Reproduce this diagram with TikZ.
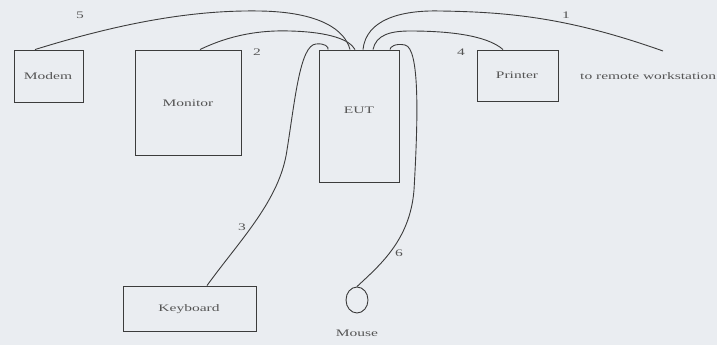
\documentclass[tikz,border=0pt]{standalone}
\usepackage{fontspec}
\setmainfont[FakeStretch=1.55]{Liberation Serif}
\usetikzlibrary{shapes.geometric}
\definecolor{bg}{RGB}{234,237,241}
\definecolor{ink}{RGB}{60,60,60}
\definecolor{txt}{RGB}{85,85,85}
\tikzset{
  box/.style={draw=ink, line width=0.9pt, rectangle, inner sep=0pt},
  cable/.style={draw=ink, line width=0.9pt},
  lbl/.style={text=txt, font=\fontsize{10}{11}\selectfont, inner sep=0pt},
  num/.style={text=txt, font=\fontsize{10}{11}\selectfont, inner sep=0pt}
}
\begin{document}
\begin{tikzpicture}[x=1pt,y=-1pt]
\fill[bg] (0,0) rectangle (717,345);
\useasboundingbox (0,0) rectangle (717,345);
% boxes
\node[box, minimum width=69pt, minimum height=52pt] (modem) at (48.5,76) {};
\node[box, minimum width=106pt, minimum height=105pt] (monitor) at (188,102.5) {};
\node[box, minimum width=80pt, minimum height=132pt] (eut) at (359,116) {};
\node[box, minimum width=81pt, minimum height=51pt] (printer) at (517.5,75.5) {};
\node[box, minimum width=133pt, minimum height=45pt] (keyboard) at (189.5,308.5) {};
\node[draw=ink, line width=0.9pt, ellipse, minimum width=22pt, minimum height=26pt, inner sep=0pt] (mouse) at (357,300) {};
% texts
\node[lbl] (tmodem) at (48,76) {Modem};
\node[lbl] (tmonitor) at (188,103) {Monitor};
\node[lbl] (teut) at (359,110) {EUT};
\node[lbl] (tprinter) at (517,75) {Printer};
\node[lbl] (tkeyboard) at (189,309) {Keyboard};
\node[lbl] (tmouse) at (357,333) {Mouse};
\node[lbl, anchor=west] (tremote) at (580,76) {to remote workstation};
% numbers
\node[num] (n5) at (80,15) {5};
\node[num] (n2) at (257,52) {2};
\node[num] (n1) at (566,15) {1};
\node[num] (n4) at (461,52) {4};
\node[num] (n3) at (242,227) {3};
\node[num] (n6) at (399,253) {6};
% cable end points
\coordinate (rw) at (663,51);
% cables
\draw[cable] ([xshift=-13.5pt]modem.north) .. controls (130,20) and (200,10) .. (260,11) .. controls (320,12) and (345,30) .. ([xshift=-9pt]eut.north);
\draw[cable] ([xshift=12pt]monitor.north) .. controls (230,35) and (260,30) .. (290,31) .. controls (330,32) and (350,40) .. ([xshift=-4pt]eut.north);
\draw[cable] ([xshift=4pt]eut.north) .. controls (366,20) and (400,10) .. (440,11) .. controls (510,12) and (570,18) .. (rw);
\draw[cable] ([xshift=14pt]eut.north) .. controls (376,35) and (390,31) .. (410,31) .. controls (460,31) and (490,38) .. ([xshift=-14.5pt]printer.north);
\draw[cable] ([xshift=17.5pt]keyboard.north) .. controls (240,240) and (280,200) .. (287,150) .. controls (295,100) and (300,45) .. (316,44) .. controls (325,43) and (329,47) .. ([xshift=-31pt]eut.north);
\draw[cable] (mouse.north) .. controls (380,265) and (410,240) .. (414,190) .. controls (418,120) and (420,48) .. (405,45) .. controls (395,43) and (390,47) .. ([xshift=31pt]eut.north);
\end{tikzpicture}
\end{document}
